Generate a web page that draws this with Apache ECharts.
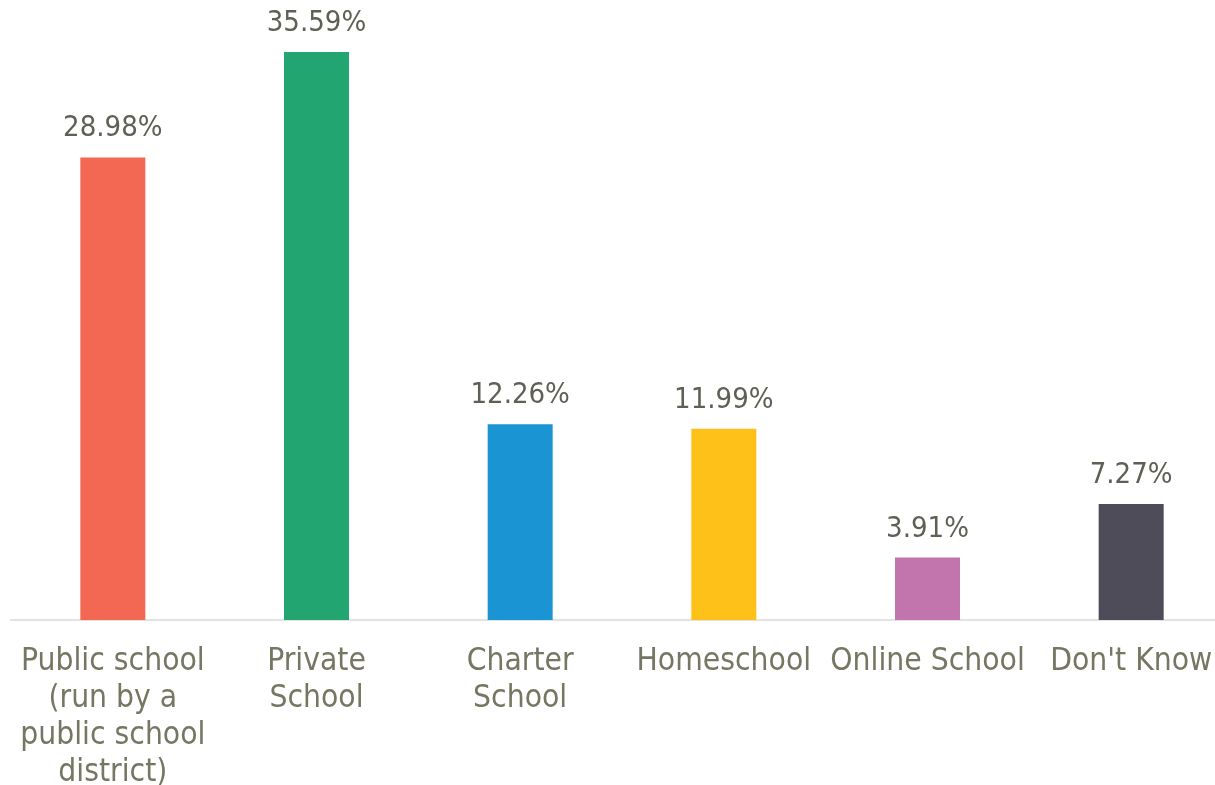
<!DOCTYPE html>
<html>
<head>
<meta charset="utf-8">
<script src="https://cdn.jsdelivr.net/npm/echarts@6/dist/echarts.min.js"></script>
<style>html,body{margin:0;padding:0;background:#fff}#c{width:1215px;height:785px}</style>
</head>
<body>
<div id="c"></div>
<script>
const categories = ["Public school\n(run by a\npublic school\ndistrict)", "Private\nSchool", "Charter\nSchool", "Homeschool", "Online School", "Don't Know"];
const values = [28.98, 35.59, 12.26, 11.99, 3.91, 7.27];
const colors = ["#F26852", "#23A572", "#1A94D2", "#FEC11A", "#C274AD", "#4E4C58"];

const chart = echarts.init(document.getElementById('c'));
chart.setOption({
  animation: false,
  grid: { left: 11, top: 45.4, width: 1222, height: 574.6, containLabel: false, outerBoundsMode: 'none' },
  xAxis: {
    type: 'category',
    data: categories,
    axisLine: { lineStyle: { color: '#e2e2e0', width: 2 } },
    axisTick: { show: false },
    axisLabel: { color: '#767663', fontFamily: 'DejaVu Sans Condensed', fontSize: 31.5, lineHeight: 37, margin: 23, interval: 0 }
  },
  yAxis: { type: 'value', min: 0, max: 36, show: false, splitLine: { show: false } },
  series: [{
    type: 'bar',
    barWidth: 65,
    data: values.map((v, i) => ({ value: v, itemStyle: { color: colors[i] } })),
    label: {
      show: true, position: 'top', distance: 14,
      formatter: p => p.value.toFixed(2) + '%',
      color: '#5f5f55', fontFamily: 'DejaVu Sans Condensed', fontSize: 29
    }
  }]
});
</script>
</body>
</html>
